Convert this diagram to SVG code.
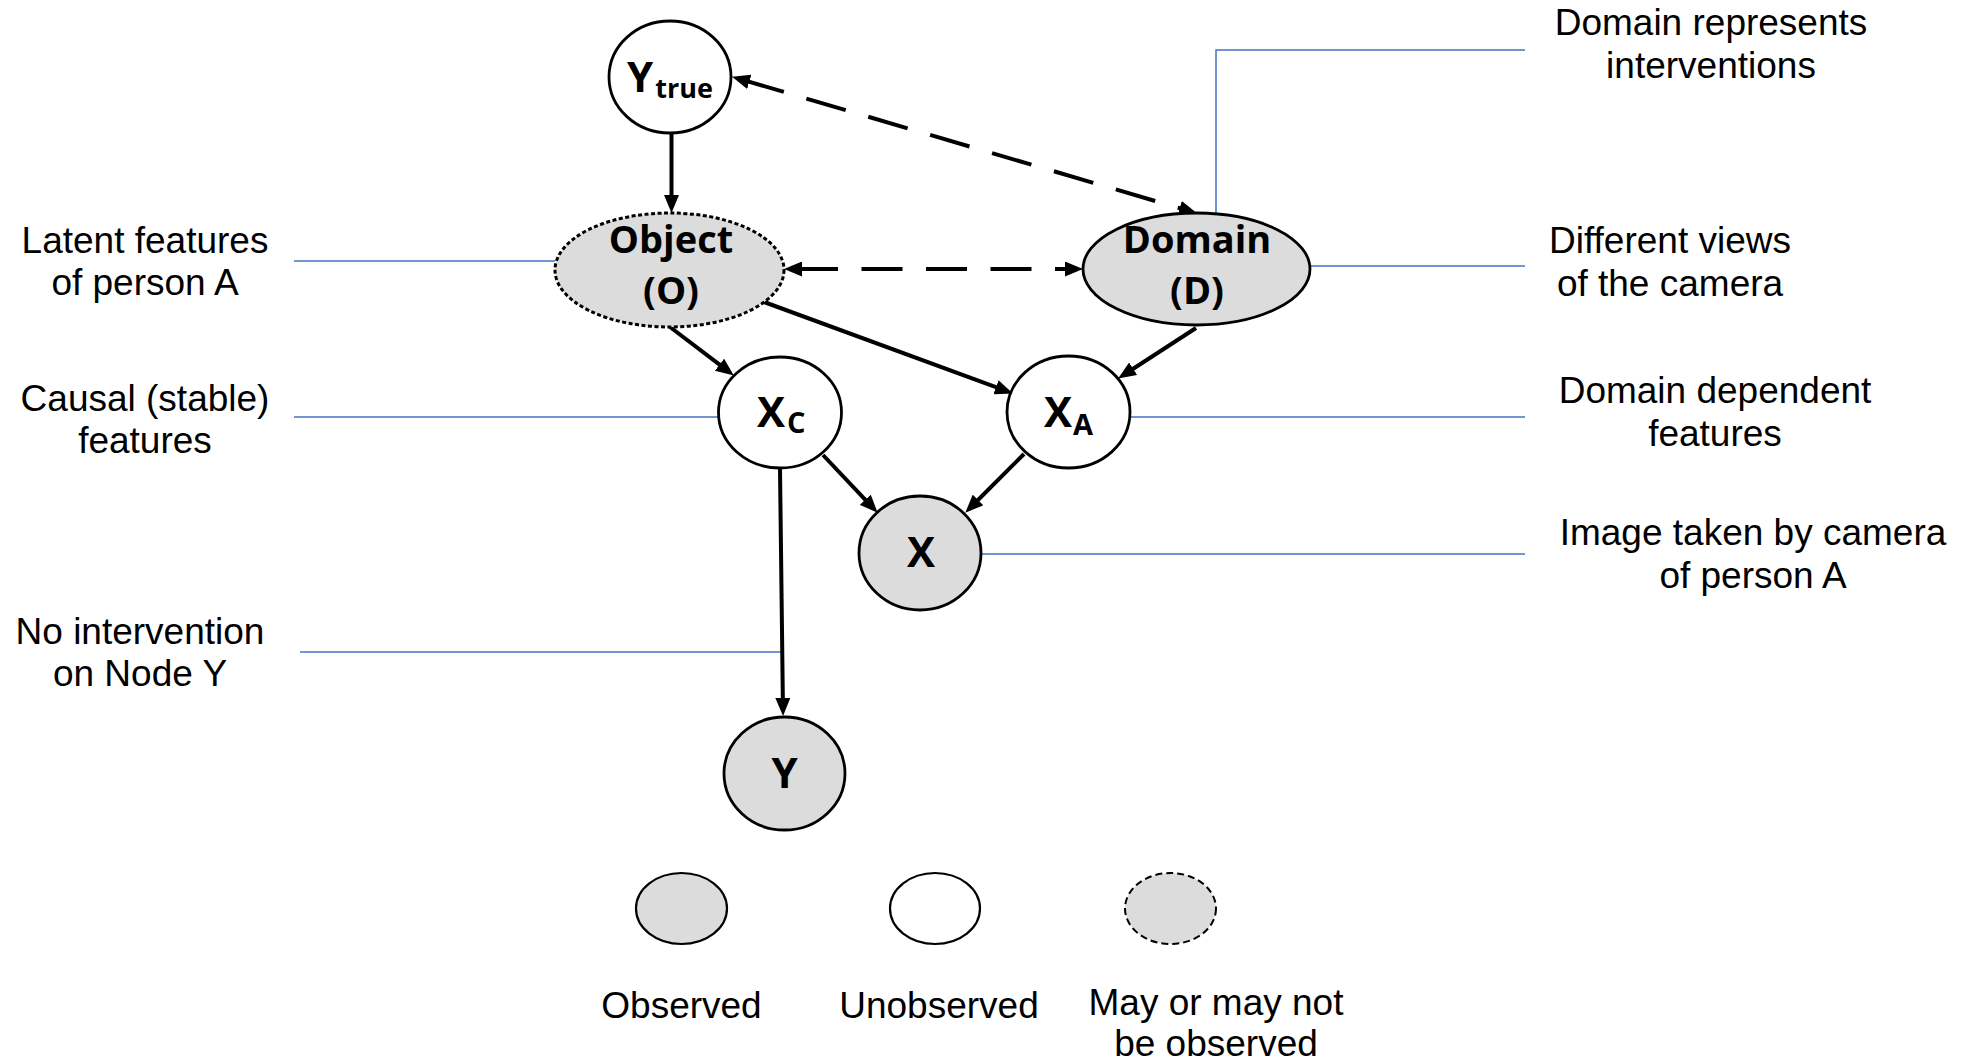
<svg xmlns="http://www.w3.org/2000/svg" width="1962" height="1061" viewBox="0 0 1962 1061">
<style>
.n{stroke:#000;stroke-width:2.8}
.obs{fill:#dcdcdc}
.un{fill:#fff}
.dot{stroke-dasharray:4 2.5;stroke-width:3}
.lbl{font-family:"Open Sans",Lato,sans-serif;font-weight:bold;font-size:39px;fill:#000;text-anchor:middle}
.two{font-size:38px}
.big{font-size:42px;text-anchor:start}
.t{font-family:"Liberation Sans",Arial,sans-serif;font-size:37px;fill:#000;text-anchor:middle}
.e{stroke:#000;stroke-width:4;fill:none}
.d{stroke:#000;stroke-width:4;fill:none;stroke-dasharray:41 23.5}
.b{stroke:#4472C4;stroke-width:1.5;fill:none}
</style>
<defs>
<marker id="ah" markerUnits="userSpaceOnUse" markerWidth="18" markerHeight="15" viewBox="0 0 18 15" refX="5" refY="7.5" orient="auto-start-reverse">
<path d="M0,0 L18,7.5 L0,15 z" fill="#000"/>
</marker>
</defs>
<rect width="1962" height="1061" fill="#fff"/>

<g id="callouts">
<path class="b" d="M1216,213 L1216,50 L1525,50"/>
<path class="b" d="M1310,266 L1525,266"/>
<path class="b" d="M294,261 L555,261"/>
<path class="b" d="M294,417 L718,417"/>
<path class="b" d="M1130,417 L1525,417"/>
<path class="b" d="M981,554 L1525,554"/>
<path class="b" d="M300,652 L781,652"/>
</g>

<g id="connectors">
<line class="e" x1="671.5" y1="133" x2="671.5" y2="200" marker-end="url(#ah)"/>
<line class="e" x1="670" y1="327" x2="723.5" y2="367.7" marker-end="url(#ah)"/>
<line class="e" x1="764" y1="302" x2="1000.7" y2="388.9" marker-end="url(#ah)"/>
<line class="e" x1="1196" y1="328" x2="1129" y2="371.5" marker-end="url(#ah)"/>
<line class="e" x1="823" y1="455" x2="868.7" y2="503.3" marker-end="url(#ah)"/>
<line class="e" x1="1024" y1="454" x2="974.5" y2="503.5" marker-end="url(#ah)"/>
<line class="e" x1="780" y1="469" x2="782.9" y2="703" marker-end="url(#ah)"/>
<line class="d" x1="744.5" y1="80.4" x2="1184.5" y2="209.6" marker-start="url(#ah)" marker-end="url(#ah)"/>
<line class="d" x1="797" y1="269" x2="1070" y2="269" marker-start="url(#ah)" marker-end="url(#ah)"/>
</g>

<g id="node-ytrue">
<ellipse class="n un" cx="670" cy="77" rx="61" ry="56"/>
<text class="lbl big" x="627" y="92">Y<tspan font-size="27" dx="2" dy="6">true</tspan></text>
</g>
<g id="node-object">
<ellipse class="n obs dot" cx="669.5" cy="270" rx="114.5" ry="57"/>
<text class="lbl two" x="671" y="253">Object</text>
<text class="lbl two" x="671" y="304">(O)</text>
</g>
<g id="node-domain">
<ellipse class="n obs" cx="1196.5" cy="269" rx="113.5" ry="56"/>
<text class="lbl two" x="1197" y="253">Domain</text>
<text class="lbl two" x="1197" y="304">(D)</text>
</g>
<g id="node-xc">
<ellipse class="n un" cx="780" cy="412.5" rx="61.5" ry="55.5"/>
<text class="lbl big" x="757" y="427" font-size="41">X<tspan font-size="29" dx="2" dy="6">C</tspan></text>
</g>
<g id="node-xa">
<ellipse class="n un" cx="1068.5" cy="412" rx="61.5" ry="56"/>
<text class="lbl big" x="1044" y="427" font-size="41">X<tspan font-size="29" dx="1" dy="8">A</tspan></text>
</g>
<g id="node-x">
<ellipse class="n obs" cx="920" cy="553" rx="61" ry="57"/>
<text class="lbl" x="921" y="567" style="font-size:42px">X</text>
</g>
<g id="node-y">
<ellipse class="n obs" cx="784.5" cy="773.5" rx="60.5" ry="56.5"/>
<text class="lbl" x="784.5" y="788" style="font-size:42px">Y</text>
</g>

<g id="labels-left">
<text class="t" x="145" y="253">Latent features</text>
<text class="t" x="145" y="295">of person A</text>
<text class="t" x="145" y="411">Causal (stable)</text>
<text class="t" x="145" y="453">features</text>
<text class="t" x="140" y="644">No intervention</text>
<text class="t" x="140" y="686">on Node Y</text>
</g>
<g id="labels-right">
<text class="t" x="1711" y="35">Domain represents</text>
<text class="t" x="1711" y="78">interventions</text>
<text class="t" x="1670" y="253">Different views</text>
<text class="t" x="1670" y="296">of the camera</text>
<text class="t" x="1715" y="403">Domain dependent</text>
<text class="t" x="1715" y="446">features</text>
<text class="t" x="1753" y="545">Image taken by camera</text>
<text class="t" x="1753" y="588">of person A</text>
</g>

<g id="legend">
<g id="legend-observed">
<ellipse cx="681.5" cy="908.5" rx="45.5" ry="35.5" fill="#dcdcdc" stroke="#000" stroke-width="2.2"/>
<text class="t" x="681.5" y="1018">Observed</text>
</g>
<g id="legend-unobserved">
<ellipse cx="935" cy="908.5" rx="45" ry="35.5" fill="#fff" stroke="#000" stroke-width="2.2"/>
<text class="t" x="939" y="1018">Unobserved</text>
</g>
<g id="legend-maybe">
<ellipse cx="1170.5" cy="908.5" rx="45.5" ry="35.5" fill="#dcdcdc" stroke="#000" stroke-width="2" stroke-dasharray="7 4"/>
<text class="t" x="1216" y="1015">May or may not</text>
<text class="t" x="1216" y="1056">be observed</text>
</g>
</g>
</svg>
